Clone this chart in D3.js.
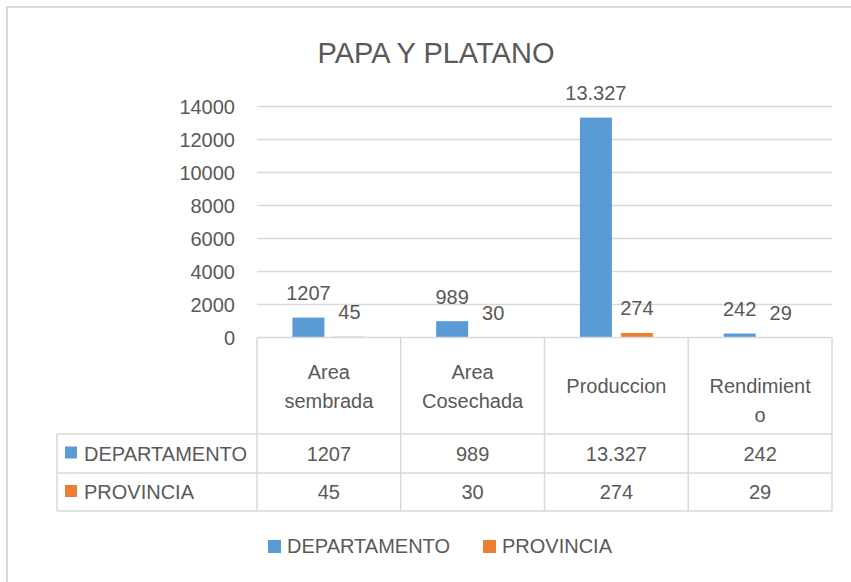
<!DOCTYPE html>
<html>
<head>
<meta charset="utf-8">
<script src="https://cdn.jsdelivr.net/npm/d3@7"></script>
<style>
  body { margin: 0; background: #fff; }
  text { font-family: "Liberation Sans", Arial, sans-serif; fill: #595959; }
</style>
</head>
<body>
<script>
// data
var categories = ["Area sembrada", "Area Cosechada", "Produccion", "Rendimiento"];
var categoryLines = [["Area", "sembrada"], ["Area", "Cosechada"], ["Produccion"], ["Rendimient", "o"]];
var seriesNames = ["DEPARTAMENTO", "PROVINCIA"];
var deptValues = [1207, 989, 13327, 242];
var provValues = [45, 30, 274, 29];
var deptLabels = ["1207", "989", "13.327", "242"];
var provLabels = ["45", "30", "274", "29"];
var yTicks = [0, 2000, 4000, 6000, 8000, 10000, 12000, 14000];
var colors = ["#5B9BD5", "#ED7D31"];

var width = 851, height = 582;
var plotLeft = 257, plotRight = 832, plotTop = 106.5, plotBottom = 337.5;
var gridColor = "#d9d9d9";

var svg = d3.select("body").append("svg")
  .attr("width", width)
  .attr("height", height);

// chart frame
svg.append("rect")
  .attr("x", 7).attr("y", 7)
  .attr("width", 900).attr("height", 600)
  .attr("fill", "none")
  .attr("stroke", gridColor)
  .attr("stroke-width", 2);

svg.append("text")
  .attr("x", 436).attr("y", 63)
  .attr("text-anchor", "middle")
  .style("font-size", "29px")
  .text("PAPA Y PLATANO");

var y = d3.scaleLinear().domain([0, 14000]).range([plotBottom, plotTop]);
var x0 = d3.scaleBand().domain(categories).range([plotLeft, plotRight]);
var bw = x0.bandwidth();
var x1 = d3.scaleBand().domain(seriesNames)
  .range([bw * 0.2463, bw * 0.7541])
  .paddingInner(9 / 41);

// gridlines
svg.append("g").selectAll("line")
  .data(yTicks.slice(1))
  .enter().append("line")
  .attr("x1", plotLeft).attr("x2", plotRight)
  .attr("y1", function(d){ return y(d); })
  .attr("y2", function(d){ return y(d); })
  .attr("stroke", gridColor)
  .attr("stroke-width", 1.3);

// y axis labels
var yAxis = d3.axisLeft(y).tickValues(yTicks).tickSize(0).tickPadding(0).tickFormat(d3.format("d"));
var yg = svg.append("g").attr("transform", "translate(235,0)").call(yAxis);
yg.select(".domain").remove();
yg.selectAll("text")
  .attr("dy", "0.35em")
  .style("font-size", "20px")
  .style("font-family", "'Liberation Sans', Arial, sans-serif")
  .attr("fill", "#595959");

// bars
var seriesData = [deptValues, provValues];
var seriesLabels = [deptLabels, provLabels];
seriesNames.forEach(function(s, si){
  var g = svg.append("g");
  g.selectAll("rect")
    .data(seriesData[si])
    .enter().append("rect")
    .attr("x", function(d, i){ return x0(categories[i]) + x1(s); })
    .attr("y", function(d){ return y(d); })
    .attr("width", x1.bandwidth())
    .attr("height", function(d){ return plotBottom - y(d); })
    .attr("fill", colors[si]);
  g.selectAll("text")
    .data(seriesData[si])
    .enter().append("text")
    .attr("x", function(d, i){ return x0(categories[i]) + x1(s) + x1.bandwidth() / 2; })
    .attr("y", function(d){ return y(d) - 17.5; })
    .attr("text-anchor", "middle")
    .style("font-size", "20px")
    .text(function(d, i){ return seriesLabels[si][i]; });
});

// data table
var tableLeft = 57, headerBottom = 434, row1Bottom = 473, row2Bottom = 511;
var tg = svg.append("g").attr("stroke", gridColor).attr("stroke-width", 1.5);
tg.append("line").attr("x1", plotLeft).attr("x2", plotRight).attr("y1", plotBottom).attr("y2", plotBottom);
[headerBottom, row1Bottom, row2Bottom].forEach(function(yy){
  tg.append("line").attr("x1", tableLeft).attr("x2", plotRight).attr("y1", yy).attr("y2", yy);
});
tg.append("line").attr("x1", tableLeft).attr("x2", tableLeft).attr("y1", headerBottom).attr("y2", row2Bottom);
tg.selectAll(".vline")
  .data(categories.concat(["end"]))
  .enter().append("line")
  .attr("class", "vline")
  .attr("x1", function(d, i){ return plotLeft + i * bw; })
  .attr("x2", function(d, i){ return plotLeft + i * bw; })
  .attr("y1", plotBottom).attr("y2", row2Bottom);

// header labels (centred by word count, like the source)
var headerMid = (plotBottom + headerBottom) / 2;
categoryLines.forEach(function(lines, i){
  var words = categories[i].split(" ").length;
  var startY = headerMid + 7.5 - (words - 1) * 14.5;
  var t = svg.append("text")
    .attr("text-anchor", "middle")
    .style("font-size", "20px");
  lines.forEach(function(l, li){
    t.append("tspan")
      .attr("x", x0(categories[i]) + bw / 2)
      .attr("y", startY + li * 29)
      .text(l);
  });
});

// table rows
var rowMids = [(headerBottom + row1Bottom) / 2, (row1Bottom + row2Bottom) / 2];
seriesNames.forEach(function(s, si){
  svg.append("rect")
    .attr("x", 65).attr("y", rowMids[si] - 7)
    .attr("width", 12).attr("height", 12)
    .attr("fill", colors[si]);
  svg.append("text")
    .attr("x", 84).attr("y", rowMids[si] + 7)
    .style("font-size", "20px")
    .text(s);
  svg.append("g").selectAll("text")
    .data(seriesLabels[si])
    .enter().append("text")
    .attr("x", function(d, i){ return x0(categories[i]) + bw / 2; })
    .attr("y", rowMids[si] + 7)
    .attr("text-anchor", "middle")
    .style("font-size", "20px")
    .text(function(d){ return d; });
});

// legend
var legendX = [268, 483];
seriesNames.forEach(function(s, si){
  svg.append("rect")
    .attr("x", legendX[si]).attr("y", 540)
    .attr("width", 13).attr("height", 13)
    .attr("fill", colors[si]);
  svg.append("text")
    .attr("x", legendX[si] + 19).attr("y", 553)
    .style("font-size", "20px")
    .text(s);
});
</script>
</body>
</html>
